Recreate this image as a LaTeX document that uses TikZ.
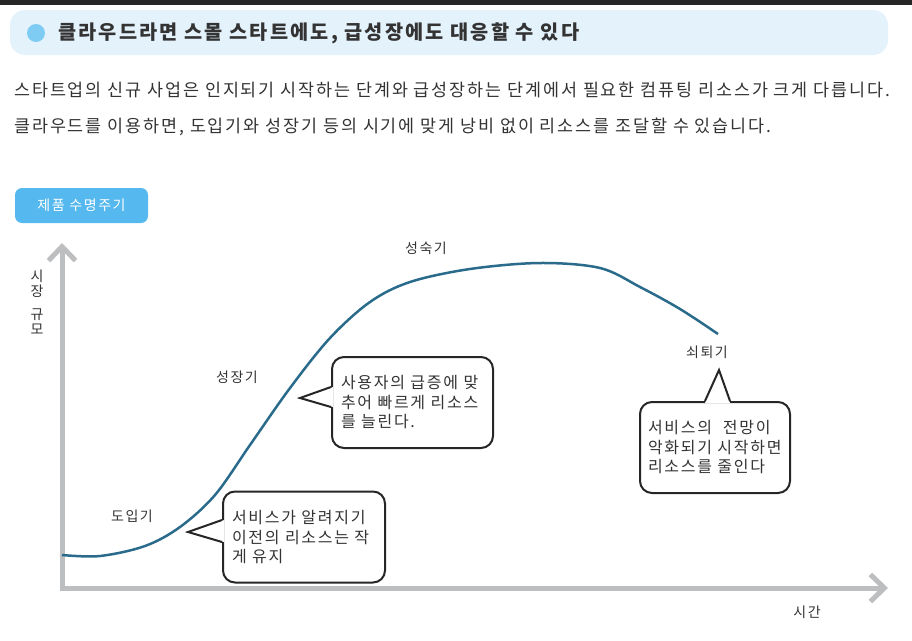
\documentclass[tikz,border=0pt]{standalone}
\usepackage{fontspec}
\setmainfont[LetterSpace=11]{Noto Sans CJK KR}
\usepackage{tikz}
\usetikzlibrary{arrows.meta}
\definecolor{headbg}{HTML}{E4F2FC}
\definecolor{headdot}{HTML}{7ECBF3}
\definecolor{tagblue}{HTML}{55B8EE}
\definecolor{axisgray}{HTML}{BDBEC0}
\definecolor{curveblue}{HTML}{2A6B8C}
\definecolor{txt}{HTML}{333333}
\tikzset{
  stage/.style={text=txt,font=\fontsize{14}{16}\selectfont,inner sep=0},
  bubble/.style={draw=black!85,fill=white,line width=2pt,rounded corners=12pt,
    text=txt,font=\fontsize{16}{19.5}\selectfont,align=left,inner ysep=0,minimum height=91pt},
  pointer/.style={draw=black!85,line width=2pt,line join=miter}
}
\begin{document}
\begin{tikzpicture}[x=1pt,y=-1pt]
\useasboundingbox (0,0) rectangle (912,640);
\fill[black!85] (0,0) rectangle (912,5);
\fill[headbg,rounded corners=15pt] (10,10) rectangle (888,55);
\fill[headdot] (36,33) circle (9);
\node[anchor=west,text=txt,font=\fontsize{19.7}{22}\selectfont\bfseries,inner sep=0] (title) at (58,33) {클라우드라면 스몰 스타트에도, 급성장에도 대응할 수 있다};
\node[anchor=west,text=txt,font=\fontsize{17.4}{20}\selectfont,inner sep=0] (line1) at (14,90) {스타트업의 신규 사업은 인지되기 시작하는 단계와 급성장하는 단계에서 필요한 컴퓨팅 리소스가 크게 다릅니다.};
\node[anchor=west,text=txt,font=\fontsize{17.4}{20}\selectfont,inner sep=0] (line2) at (14,127) {클라우드를 이용하면, 도입기와 성장기 등의 시기에 맞게 낭비 없이 리소스를 조달할 수 있습니다.};
\node[fill=tagblue,rounded corners=7pt,text=white,font=\fontsize{14}{16}\selectfont,minimum width=133pt,minimum height=35pt] (tag) at (81.5,205.5) {제품 수명주기};

\coordinate (origin) at (62,588);
\coordinate (ytop) at (62,243);
\coordinate (xend) at (888,588);
\draw[axisgray,line width=5pt,{Straight Barb[length=14pt,width=27pt]}-{Straight Barb[length=14pt,width=27pt]}] (ytop)--(origin)--(xend);
\node[stage,align=center,font=\fontsize{14}{15}\selectfont] (ylabel) at (37,302) {시\\장\\[8pt]규\\모};
\node[stage] (xlabel) at (807,612) {시간};

\draw[curveblue,line width=2.5pt] plot[smooth,tension=0.55] coordinates{(62,555)(100,556)(145,546)(180,527)(215,495)(250,445)(290,388)(330,338)(370,302)(410,282)(470,269)(540,263)(600,268)(640,287)(680,309)(718,334)};

\node[stage] (intro) at (132,516) {도입기};
\node[stage] (growth) at (237,377) {성장기};
\node[stage] (mature) at (426,248) {성숙기};
\node[stage] (decline) at (707,352) {쇠퇴기};

\node[bubble,text width=143pt,inner xsep=9pt] (bubA) at (412.5,402.5) {사용자의 급증에 맞\\추어 빠르게 리소스\\를 늘린다.};
\coordinate (tipA) at (300,398);
\fill[white] ([xshift=2pt,yshift=15.5pt]bubA.west)--(tipA)--([xshift=2pt,yshift=-4.5pt]bubA.west)--cycle;
\draw[pointer] ([yshift=15.5pt]bubA.west)--(tipA)--([yshift=-4.5pt]bubA.west);

\node[bubble,text width=144pt,inner xsep=9pt] (bubB) at (304,537) {서비스가 알려지기\\이전의 리소스는 작\\게 유지};
\coordinate (tipB) at (188,532);
\fill[white] ([xshift=2pt,yshift=17pt]bubB.west)--(tipB)--([xshift=2pt,yshift=-5pt]bubB.west)--cycle;
\draw[pointer] ([yshift=17pt]bubB.west)--(tipB)--([yshift=-5pt]bubB.west);

\node[bubble,text width=134pt,inner xsep=8pt] (bubC) at (715,447.5) {서비스의\ \ 전망이\\악화되기 시작하면\\리소스를 줄인다};
\coordinate (tipC) at (719,370);
\fill[white] ([xshift=-10pt,yshift=-2pt]bubC.north)--(tipC)--([xshift=15pt,yshift=-2pt]bubC.north)--cycle;
\draw[pointer] ([xshift=-10pt]bubC.north)--(tipC)--([xshift=15pt]bubC.north);
\end{tikzpicture}
\end{document}
